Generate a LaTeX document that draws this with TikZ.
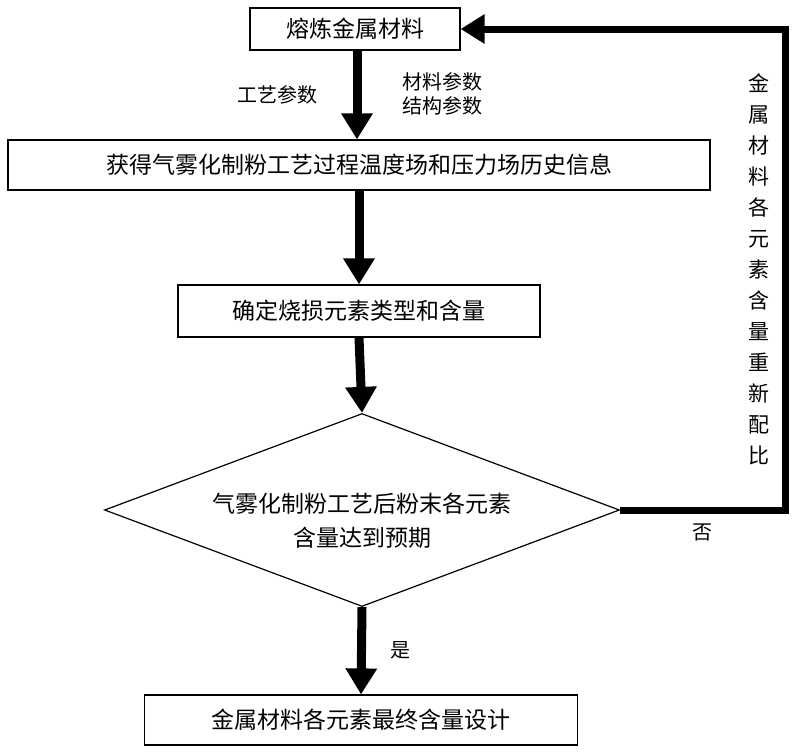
\documentclass[tikz,border=0pt]{standalone}
\usepackage{fontspec}
\newfontfamily\cjk{Noto Sans CJK SC}
\usetikzlibrary{arrows.meta,shapes.geometric}
\begin{document}
\begin{tikzpicture}[x=1pt,y=-1pt,
  box/.style={draw,line width=1.2pt,inner sep=0pt,font=\cjk\fontsize{23}{28}\selectfont},
  big/.style={line width=9pt,-{Triangle[width=30pt,length=26pt]}},
  lab/.style={font=\cjk\fontsize{20}{24}\selectfont}]
\useasboundingbox (0,0) rectangle (800,753);
\node[box,minimum width=210,minimum height=42] (b1) at (355,29) {熔炼金属材料};
\node[box,minimum width=702,minimum height=50] (b2) at (359,165) {获得气雾化制粉工艺过程温度场和压力场历史信息};
\node[box,minimum width=362,minimum height=52] (b3) at (359,311) {确定烧损元素类型和含量};
\node[draw,line width=1.2pt,diamond,aspect=2.67,minimum width=515,minimum height=193,inner sep=0pt] (d) at (362,510) {};
\node[font=\cjk\fontsize{23}{34}\selectfont,align=center] (dt) at (362,521) {气雾化制粉工艺后粉末各元素\\含量达到预期};
\node[box,minimum width=433,minimum height=50] (b5) at (361,720) {金属材料各元素最终含量设计};
\draw[big] (b1.south -| 357,0) -- (b2.north -| 357,0);
\draw[big] (b2.south) -- (b3.north);
\draw[big] (b3.south) -- (d.north);
\draw[big] (d.south) -- (b5.north);
\coordinate (c1) at (785,510);
\coordinate (c2) at (785,29);
\draw[line width=7pt,-{Triangle[width=28pt,length=24pt]}] (d.east) -- (c1) -- (c2) -- (b1.east);
\node[lab] (l1) at (277,95) {工艺参数};
\node[lab,align=left] (l2) at (442,94) {材料参数\\结构参数};
\node[lab] (l3) at (400,650) {是};
\node[lab] (l4) at (702,532) {否};
\node[font=\cjk\fontsize{21}{31}\selectfont,align=center] (vt) at (759,269) {金\\属\\材\\料\\各\\元\\素\\含\\量\\重\\新\\配\\比};
\end{tikzpicture}
\end{document}
